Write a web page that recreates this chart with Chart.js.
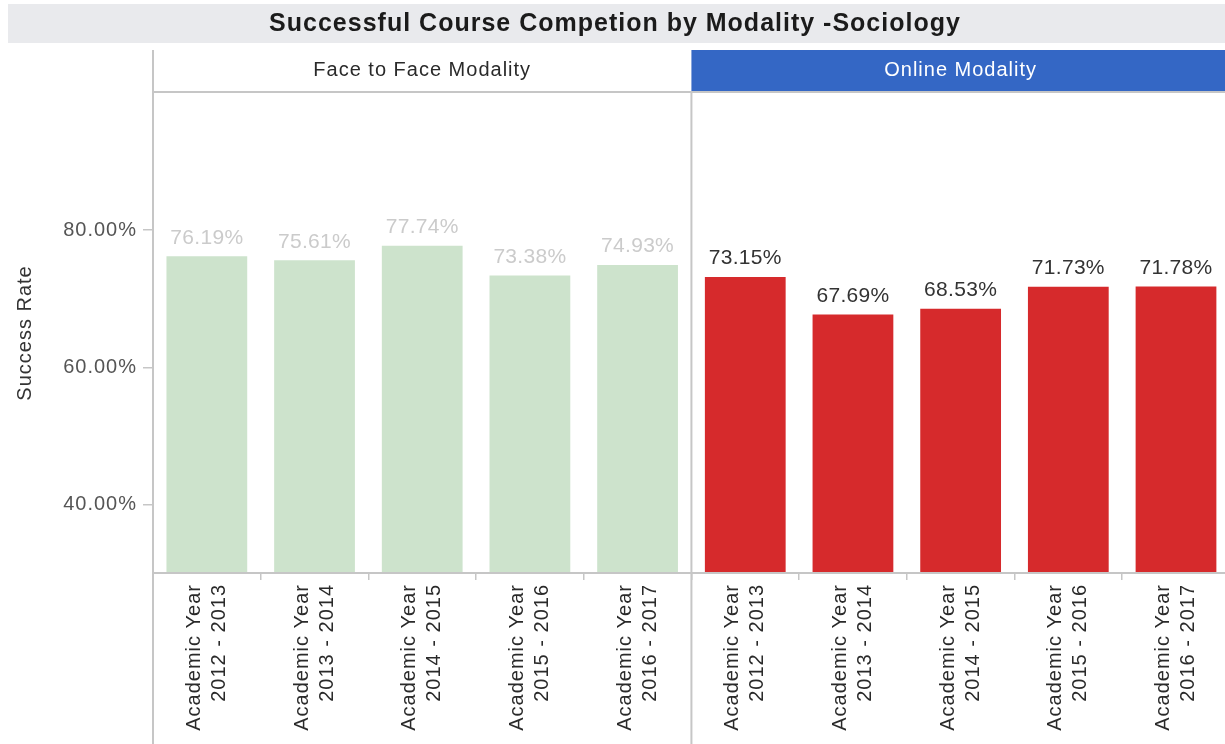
<!DOCTYPE html>
<html>
<head>
<meta charset="utf-8">
<script src="https://cdn.jsdelivr.net/npm/chart.js@4.4.1/dist/chart.umd.min.js"></script>
<style>
  html, body { margin: 0; padding: 0; background: #ffffff; overflow: hidden; }
  #wrap { width: 1230px; height: 744px; }
</style>
</head>
<body>
<div id="wrap"><canvas id="c" width="1230" height="744"></canvas></div>
<script>
// ---- data ----
const chartTitle = "Successful Course Competion by Modality -Sociology";
const panelNames = ["Face to Face Modality", "Online Modality"];
const academicYears = [
  ["Academic Year", "2012 - 2013"],
  ["Academic Year", "2013 - 2014"],
  ["Academic Year", "2014 - 2015"],
  ["Academic Year", "2015 - 2016"],
  ["Academic Year", "2016 - 2017"]
];
const faceToFaceRates = [76.19, 75.61, 77.74, 73.38, 74.93];
const onlineRates = [73.15, 67.69, 68.53, 71.73, 71.78];
const yTickValues = [40, 60, 80];
const yAxisTitle = "Success Rate";

// ---- derived structures ----
const labels = academicYears.concat(academicYears);
const nulls = academicYears.map(() => null);
const f2fData = faceToFaceRates.concat(nulls);
const onlineData = nulls.concat(onlineRates);

const FONT = "'Liberation Sans', Arial, sans-serif";
const AXIS_COLOR = '#c6c6c6';

const decorPlugin = {
  id: 'decor',
  beforeDraw(chart) {
    const ctx = chart.ctx;
    ctx.letterSpacing = '1px';
    const ca = chart.chartArea;
    const xs = chart.scales.x;
    const mid = (xs.getPixelForValue(4) + xs.getPixelForValue(5)) / 2;
    ctx.save();
    // title band
    ctx.fillStyle = '#e9eaed';
    ctx.fillRect(8, 4, chart.width - 8, 39);
    // online header band
    ctx.fillStyle = '#3467c5';
    ctx.fillRect(mid, 50, chart.width - mid, 42);
    // header texts
    ctx.font = '20px ' + FONT;
    ctx.textAlign = 'center';
    ctx.textBaseline = 'middle';
    ctx.fillStyle = '#2a2a2a';
    ctx.fillText(panelNames[0], (ca.left + mid) / 2, 70);
    ctx.fillStyle = '#ffffff';
    ctx.fillText(panelNames[1], (mid + ca.right) / 2, 70);
    ctx.restore();
  },
  afterDraw(chart) {
    const ctx = chart.ctx;
    const ca = chart.chartArea;
    const xs = chart.scales.x;
    const mid = (xs.getPixelForValue(4) + xs.getPixelForValue(5)) / 2;
    ctx.save();
    ctx.strokeStyle = AXIS_COLOR;
    ctx.lineWidth = 2;
    ctx.beginPath();
    // header bottom line
    ctx.moveTo(ca.left, 92); ctx.lineTo(chart.width, 92);
    // left axis line
    ctx.moveTo(ca.left, 50); ctx.lineTo(ca.left, chart.height);
    // panel divider
    ctx.moveTo(mid, 92); ctx.lineTo(mid, chart.height);
    // bottom axis line
    ctx.moveTo(ca.left, ca.bottom); ctx.lineTo(chart.width, ca.bottom);
    ctx.stroke();
    ctx.restore();
  },
  afterDatasetsDraw(chart) {
    const ctx = chart.ctx;
    ctx.save();
    ctx.font = '21px ' + FONT;
    ctx.letterSpacing = '0.3px';
    ctx.textAlign = 'center';
    ctx.textBaseline = 'middle';
    chart.data.datasets.forEach((ds, di) => {
      const meta = chart.getDatasetMeta(di);
      meta.data.forEach((bar, i) => {
        const v = ds.data[i];
        if (v === null || v === undefined) return;
        ctx.fillStyle = ds.labelColor;
        ctx.fillText(v.toFixed(2) + '%', bar.x, bar.y - 18.5);
      });
    });
    ctx.restore();
  }
};

new Chart(document.getElementById('c'), {
  type: 'bar',
  data: {
    labels: labels,
    datasets: [
      {
        label: panelNames[0],
        data: f2fData,
        backgroundColor: '#cde3cc',
        labelColor: '#cbcbcb',
        grouped: false,
        barPercentage: 0.75,
        categoryPercentage: 1.0
      },
      {
        label: panelNames[1],
        data: onlineData,
        backgroundColor: '#d62a2c',
        labelColor: '#333333',
        grouped: false,
        barPercentage: 0.75,
        categoryPercentage: 1.0
      }
    ]
  },
  options: {
    responsive: false,
    animation: false,
    devicePixelRatio: 1,
    layout: { padding: 0 },
    plugins: {
      legend: { display: false },
      tooltip: { enabled: false },
      title: {
        display: true,
        text: chartTitle,
        color: '#1b1b1b',
        font: { family: FONT, size: 25, weight: 'bold', lineHeight: 1.2 },
        padding: { top: 9, bottom: 54 }
      }
    },
    scales: {
      x: {
        type: 'category',
        offset: true,
        border: { display: false },
        grid: {
          offset: true,
          drawOnChartArea: false,
          drawTicks: true,
          tickLength: 7,
          color: AXIS_COLOR,
          lineWidth: 1.5
        },
        ticks: {
          autoSkip: false,
          minRotation: 90,
          maxRotation: 90,
          padding: 4,
          labelOffset: -12.5,
          color: '#2a2a2a',
          font: { family: FONT, size: 20, lineHeight: 1.25 }
        },
        afterFit(scale) { scale.height = 171; }
      },
      y: {
        min: 30,
        max: 100,
        border: { display: false },
        grid: {
          drawOnChartArea: false,
          drawTicks: true,
          tickLength: 10,
          color: AXIS_COLOR,
          lineWidth: 1.5
        },
        afterBuildTicks(scale) {
          scale.ticks = yTickValues.map(v => ({ value: v }));
        },
        ticks: {
          padding: 6,
          color: '#555555',
          font: { family: FONT, size: 20 },
          callback: (v) => Number(v).toFixed(2) + '%'
        },
        title: {
          display: true,
          text: yAxisTitle,
          color: '#333333',
          font: { family: FONT, size: 20 },
          padding: { top: 13, bottom: 0 }
        },
        afterFit(scale) { scale.width = 153; }
      }
    }
  },
  plugins: [decorPlugin]
});
</script>
</body>
</html>
